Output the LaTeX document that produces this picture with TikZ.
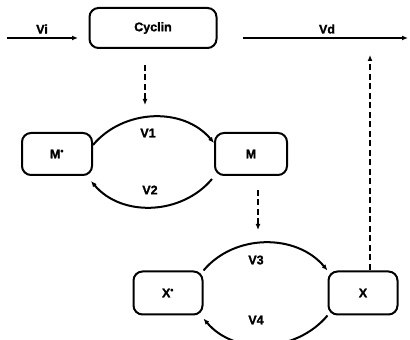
\documentclass[tikz,border=0pt]{standalone}
\usepackage{fontspec}
\setmainfont{Liberation Sans}
\newfontfamily\heavyfont[FakeBold=1.5]{Liberation Sans Bold}
\usetikzlibrary{arrows.meta}
\tikzset{
  box/.style={draw, line width=2pt, rounded corners=9pt, font=\fontsize{12.5}{14}\heavyfont, inner sep=0pt},
  lbl/.style={font=\fontsize{12.5}{14}\heavyfont, inner sep=0pt},
  flow/.style={line width=2pt, -{Latex[length=6pt,width=5pt]}},
  ctrl/.style={line width=2pt, dash pattern=on 6pt off 3.5pt, -{Latex[length=6pt,width=5pt]}}
}
\begin{document}
\begin{tikzpicture}[x=1pt,y=1pt]
\useasboundingbox (0,0) rectangle (410,340);
% boxes
\node[box, minimum width=127pt, minimum height=40pt] (cyc) at (153,312) {Cyclin};
\node[box, minimum width=70pt, minimum height=42pt] (Ms) at (57,186) {M\textsuperscript{•}};
\node[box, minimum width=72pt, minimum height=42pt] (M) at (251,186) {M};
\node[box, minimum width=69pt, minimum height=43pt] (Xs) at (168,47) {X\textsuperscript{•}};
\node[box, minimum width=69pt, minimum height=43pt] (X) at (363,47) {X};
% free ends
\coordinate (vistart) at (7,302);
\coordinate (viend) at (78,302);
\coordinate (vdstart) at (243,302);
\coordinate (vdend) at (408,302);
\coordinate (cycdash) at (145,275);
\coordinate (cycdashend) at (145,235);
\coordinate (mdash) at (258,150);
\coordinate (mdashend) at (258,110);
\coordinate (xdash) at (370,70);
\coordinate (xdashend) at (370,285);
% flows
\draw[flow] (vistart) -- (viend);
\draw[flow] (vdstart) -- (vdend);
\node[lbl] at (42,311) {Vi};
\node[lbl] at (327,311) {Vd};
% M cycle
\draw[flow] ([yshift=9pt]Ms.east) to[out=50,in=130] ([yshift=11pt]M.west);
\draw[flow] ([xshift=-2pt,yshift=-3pt]M.south west) to[out=-130,in=-50] ([xshift=-2pt,yshift=-5pt]Ms.south east);
\node[lbl] at (148,207) {V1};
\node[lbl] at (150,150) {V2};
% X cycle
\draw[flow] (Xs.north east) to[out=50,in=130] (X.north west);
\draw[flow] (X.south west) to[out=-130,in=-50] ([yshift=-3pt]Xs.south east);
\node[lbl] at (256,80) {V3};
\node[lbl] at (256,20) {V4};
% control (dashed)
\draw[ctrl] (cycdash) -- (cycdashend);
\draw[ctrl] (mdash) -- (mdashend);
\draw[ctrl] (xdash) -- (xdashend);
\end{tikzpicture}
\end{document}
